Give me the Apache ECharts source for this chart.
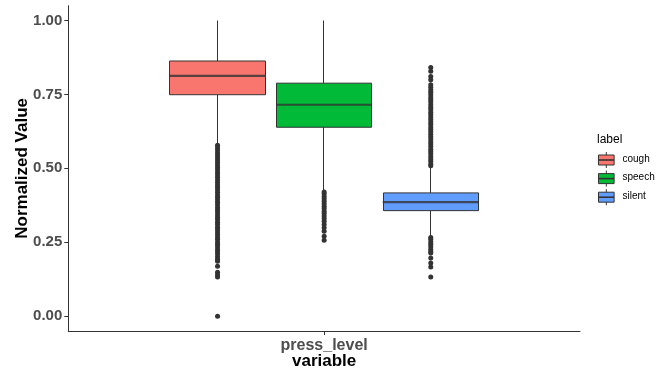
<!DOCTYPE html>
<html><head><meta charset="utf-8">
<script src="https://cdn.jsdelivr.net/npm/echarts@6/dist/echarts.min.js"></script>
<style>html,body{margin:0;padding:0;background:#fff}#c{width:665px;height:372px}</style>
</head><body><div id="c"></div>
<script>
// ---- data ----
const labels = ['cough', 'speech', 'silent'];
const fills = ['#F8766D', '#00BA38', '#619CFF'];
const xPos = [0.75, 1.0, 1.25];           // dodged positions around the single category
const categoryName = 'press_level';
const yTicks = [0, 0.25, 0.5, 0.75, 1.0];
// [lower whisker, Q1, median, Q3, upper whisker]
const coughStats  = [0.578, 0.749, 0.813, 0.863, 1.000];
const speechStats = [0.422, 0.639, 0.715, 0.788, 1.000];
const silentStats = [0.268, 0.357, 0.386, 0.417, 0.507];
const coughOut = [0.578,0.570,0.562,0.553,0.545,0.537,0.528,0.520,0.511,0.503,0.495,0.486,0.478,0.470,0.461,0.452,0.444,0.436,0.428,0.419,0.410,0.402,0.394,0.385,0.377,0.368,0.360,0.352,0.343,0.335,0.327,0.318,0.310,0.301,0.293,0.285,0.276,0.268,0.260,0.251,0.243,0.235,0.226,0.218,0.210,0.201,0.193,0.186,0.169,0.149,0.140,0.133,0.000];
const speechOut = [0.420,0.414,0.405,0.397,0.389,0.380,0.372,0.364,0.355,0.347,0.339,0.330,0.321,0.310,0.299,0.287,0.270,0.257];
const silentOut = [0.509,0.515,0.524,0.532,0.540,0.549,0.557,0.565,0.574,0.582,0.590,0.599,0.607,0.615,0.624,0.632,0.640,0.649,0.657,0.665,0.674,0.682,0.690,0.699,0.707,0.715,0.724,0.732,0.740,0.749,0.757,0.765,0.774,0.783,0.800,0.811,0.828,0.841,
                   0.266,0.260,0.251,0.243,0.235,0.226,0.218,0.214,0.197,0.180,0.166,0.133];

const stats = [coughStats, speechStats, silentStats];
const outs = [coughOut, speechOut, silentOut];

// ---- chart ----
const chart = echarts.init(document.getElementById('c'), null, {renderer: 'canvas'});
const BOXW = 96;
const series = [];
labels.forEach((lab, i) => {
  const s = stats[i];
  series.push({
    name: lab, type: 'candlestick', xAxisIndex: 0, yAxisIndex: 0,
    barWidth: BOXW,
    itemStyle: {color: fills[i], color0: fills[i], borderColor: '#333', borderColor0: '#333', borderWidth: 1},
    data: [[xPos[i], s[1], s[3], s[0], s[4]]]
  });
});
labels.forEach((lab, i) => {
  series.push({
    name: lab + '_median', type: 'scatter', symbol: 'rect', symbolSize: [BOXW, 2.2],
    itemStyle: {color: '#333'}, z: 3,
    data: [[xPos[i], stats[i][2]]]
  });
  series.push({
    name: lab + '_outliers', type: 'scatter', symbol: 'circle', symbolSize: 5,
    itemStyle: {color: '#333', opacity: 1}, z: 3,
    data: outs[i].map(v => [xPos[i], v])
  });
});

// legend drawn with graphics (ggplot style keys)
const legendG = [{type: 'text', left: 597, top: 134, style: {text: 'label', font: '12px "Liberation Sans", Arial, sans-serif', fill: '#000'}}];
labels.forEach((lab, i) => {
  const cy = 160 + i * 18.6;
  legendG.push({type: 'line', shape: {x1: 606.3, y1: cy - 8, x2: 606.3, y2: cy + 8}, style: {stroke: '#333', lineWidth: 1}});
  legendG.push({type: 'rect', shape: {x: 598.5, y: cy - 5, width: 15.6, height: 10}, style: {fill: fills[i], stroke: '#333', lineWidth: 1}});
  legendG.push({type: 'line', shape: {x1: 598.5, y1: cy, x2: 614.1, y2: cy}, style: {stroke: '#333', lineWidth: 1.6}});
  legendG.push({type: 'text', left: 622.5, top: cy - 6, style: {text: lab, font: '10px "Liberation Sans", Arial, sans-serif', fill: '#000'}});
});

chart.setOption({
  animation: false,
  backgroundColor: '#fff',
  grid: {left: 68.3, right: 85, top: 5.7, bottom: 41, containLabel: false, outerBoundsMode: 'none'},
  xAxis: [{
    type: 'value', min: 0.4, max: 1.6,
    name: 'variable', nameLocation: 'middle', nameGap: 22, nameMoveOverlap: false,
    nameTextStyle: {fontFamily: 'Liberation Sans', fontWeight: 'bold', fontSize: 17, color: '#000'},
    axisLine: {show: true, onZero: false, lineStyle: {color: '#333', width: 1}},
    axisTick: {show: true, length: 4, customValues: [1], lineStyle: {color: '#333'}},
    axisLabel: {customValues: [1], formatter: () => categoryName, margin: 7,
      fontFamily: 'Liberation Sans', fontWeight: 'bold', fontSize: 16, color: '#4d4d4d'},
    splitLine: {show: false}
  }],
  yAxis: [{
    type: 'value', min: -0.05, max: 1.05,
    name: 'Normalized Value', nameLocation: 'middle', nameGap: 37, nameRotate: 90, nameMoveOverlap: false,
    nameTextStyle: {fontFamily: 'Liberation Sans', fontWeight: 'bold', fontSize: 17, color: '#000'},
    axisLine: {show: true, onZero: false, lineStyle: {color: '#333', width: 1}},
    axisTick: {show: true, length: 4, customValues: yTicks, lineStyle: {color: '#333'}},
    axisLabel: {customValues: yTicks, formatter: v => Number(v).toFixed(2), margin: 6,
      fontFamily: 'Liberation Sans', fontWeight: 'bold', fontSize: 15, color: '#4d4d4d'},
    splitLine: {show: false}
  }],
  graphic: legendG,
  series: series
});
</script>
</body></html>
